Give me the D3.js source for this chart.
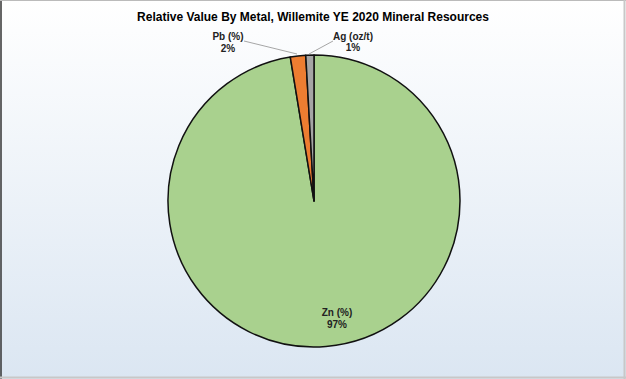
<!DOCTYPE html>
<html><head><meta charset="utf-8">
<script src="https://cdn.jsdelivr.net/npm/d3@7"></script>
<style>html,body{margin:0;padding:0;background:#fff;}svg{display:block;}</style>
</head><body>
<svg id="c" width="626" height="379"></svg>
<script>
const categories = ["Zn (%)", "Pb (%)", "Ag (oz/t)"];
const values = [97.4, 1.7, 0.9];
const labels = ["97%", "2%", "1%"];
const colors = ["#a9d18e", "#ed7d31", "#a5a5a5"];
const title = "Relative Value By Metal, Willemite YE 2020 Mineral Resources";

const W = 626, H = 379;
const svg = d3.select("#c");
const defs = svg.append("defs");
const g = defs.append("linearGradient").attr("id","bg").attr("x1",0).attr("y1",0).attr("x2",0).attr("y2",1);
g.append("stop").attr("offset","0%").attr("stop-color","#ffffff");
g.append("stop").attr("offset","100%").attr("stop-color","#dbe6f2");
svg.append("rect").attr("x",0).attr("y",0).attr("width",W).attr("height",H).attr("fill","url(#bg)");
// border
svg.append("line").attr("x1",1).attr("y1",0).attr("x2",1).attr("y2",H).attr("stroke","#333").attr("stroke-width",1.5);
svg.append("line").attr("x1",0).attr("y1",0.5).attr("x2",W).attr("y2",0.5).attr("stroke","#bbb").attr("stroke-width",1);
svg.append("line").attr("x1",W-1.5).attr("y1",0).attr("x2",W-1.5).attr("y2",H).attr("stroke","#c8c8c8").attr("stroke-width",2);
svg.append("line").attr("x1",0).attr("y1",H-1.5).attr("x2",W).attr("y2",H-1.5).attr("stroke","#c8c8c8").attr("stroke-width",2);

svg.append("text").attr("x",313).attr("y",21).attr("text-anchor","middle")
  .attr("font-family","Liberation Sans, Arial, sans-serif").attr("font-weight","bold").attr("font-size",12)
  .attr("fill","#000").text(title);

const cx = 314, cy = 201, r = 146;
const pie = d3.pie().sort(null).value(d=>d)(values);
const arc = d3.arc().innerRadius(0).outerRadius(r);
const gp = svg.append("g").attr("transform",`translate(${cx},${cy})`);
gp.selectAll("path").data(pie).join("path")
  .attr("d",arc).attr("fill",(d,i)=>colors[i]).attr("stroke","#111").attr("stroke-width",1.5).attr("stroke-linejoin","round");

// label positions (relative to center)
const labelPos = [
  {x: 23, y: 115, dy: 12},
  {x: -86, y: -161, dy: 11.5, line:[[-70,-160],[-17,-147]]},
  {x: 39, y: -161, dy: 11, line:[[19,-160],[-5,-147]]}
];
labelPos.forEach((p,i)=>{
  if(p.line){
    gp.append("polyline").attr("points",p.line.map(q=>q.join(",")).join(" "))
      .attr("fill","none").attr("stroke","#a6a6a6").attr("stroke-width",1);
  }
  const t = gp.append("text").attr("text-anchor","middle")
    .attr("font-family","Liberation Sans, Arial, sans-serif").attr("font-weight","bold").attr("font-size",10).attr("fill","#222");
  t.append("tspan").attr("x",p.x).attr("y",p.y).text(categories[i]);
  t.append("tspan").attr("x",p.x).attr("y",p.y+p.dy).text(labels[i]);
});
</script>
</body></html>
